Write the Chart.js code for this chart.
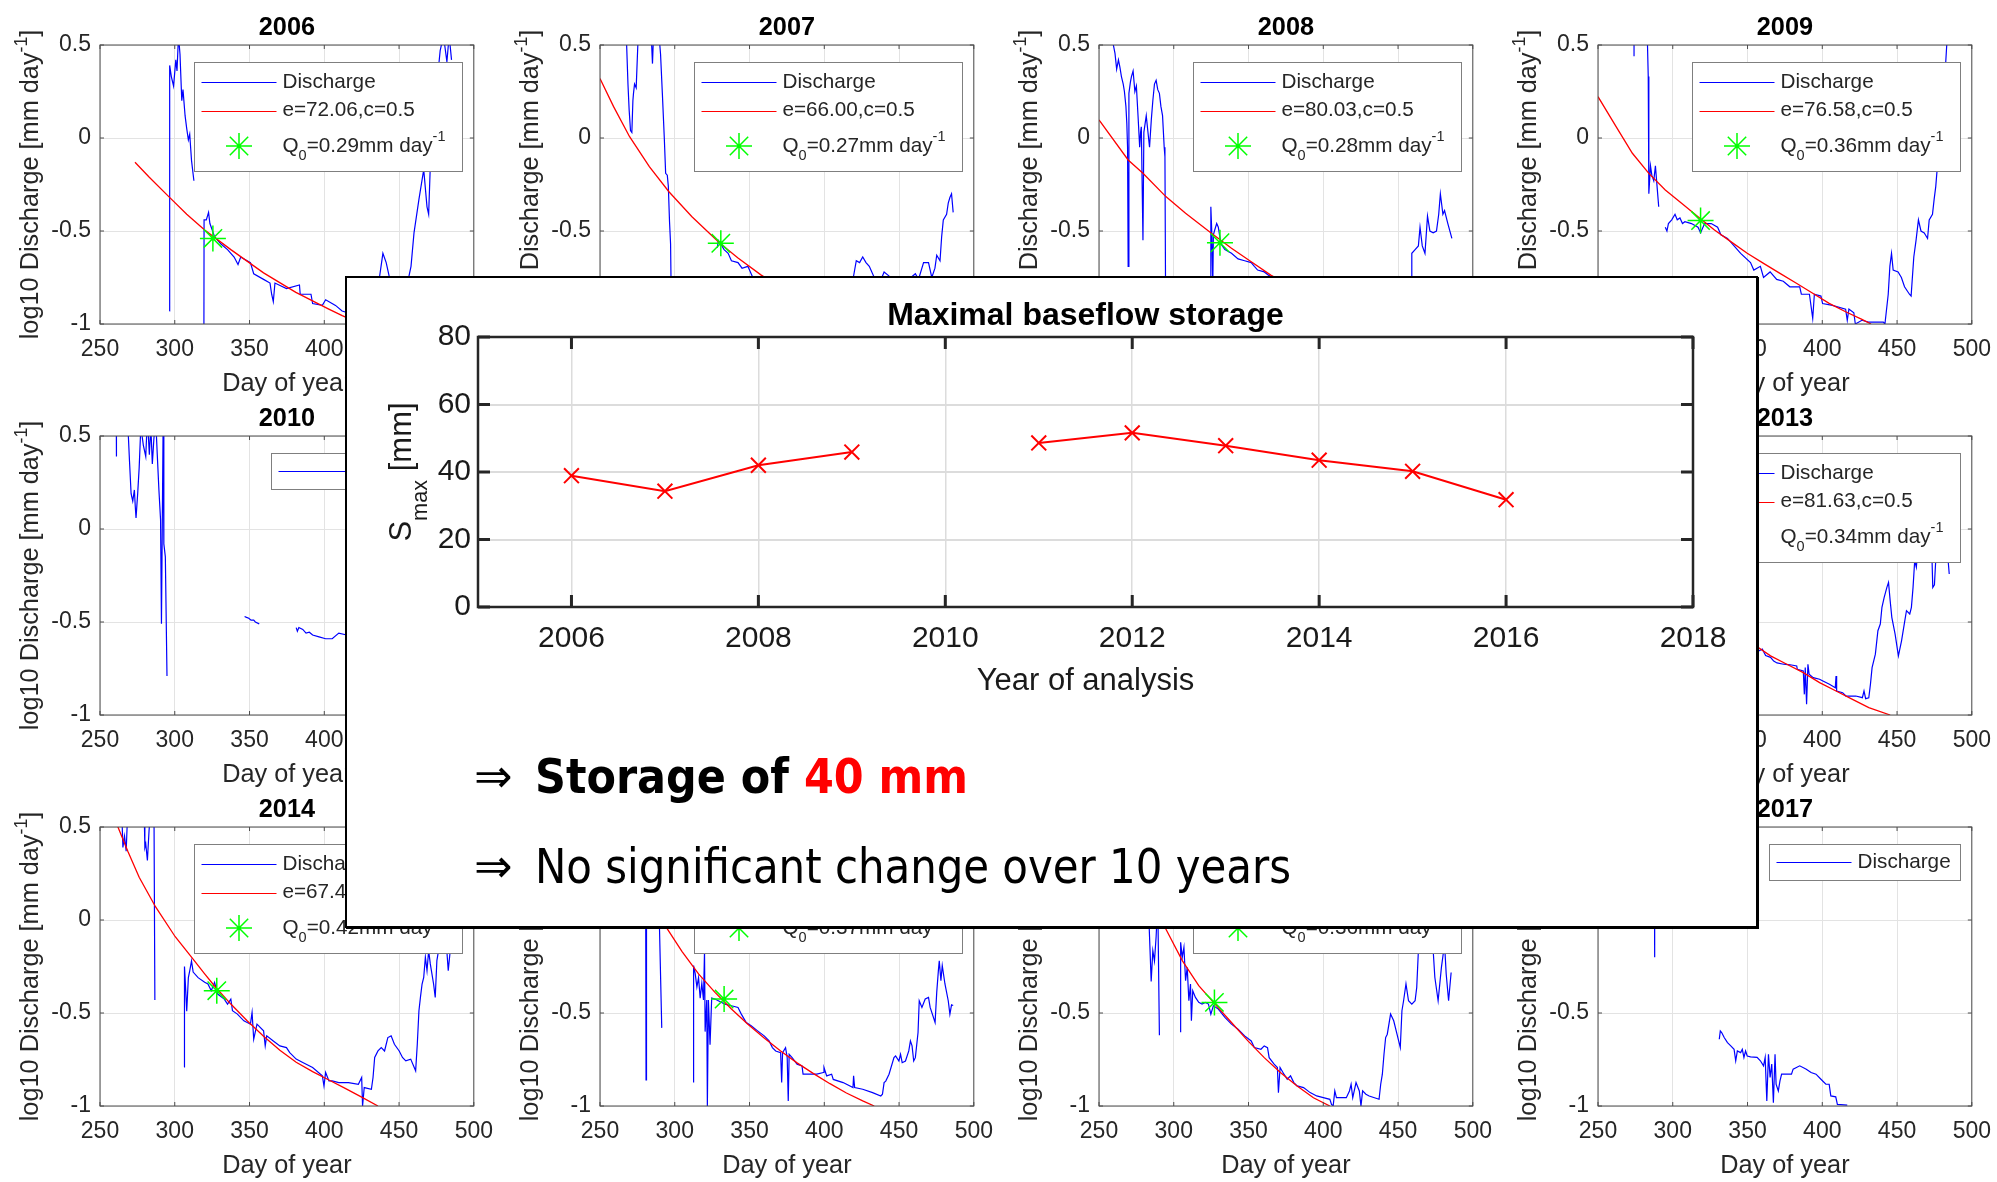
<!DOCTYPE html>
<html>
<head>
<meta charset="utf-8">
<script src="https://cdn.jsdelivr.net/npm/chart.js@4.4.1/dist/chart.umd.min.js"></script>
<style>
  html, body { margin: 0; padding: 0; background: #fff; }
  #page { position: relative; width: 1997px; height: 1182px; overflow: hidden; background: #fff; }
  .panel, #mainChart { position: absolute; }
  #card { position: absolute; left: 345px; top: 276px; width: 1413px; height: 652px; box-sizing: border-box;
          background: #fff; border: 2px solid #000; box-shadow: 1px 1px 0 #000; }
  .say { position: absolute; left: 474px; height: 48px; font-family: 'DejaVu Sans', sans-serif; font-size: 48px;
         line-height: 48px; white-space: nowrap; color: #000; }
  .say .arr { position: absolute; left: 0; top: 0; font-size: 46px; }
  .say .txt { position: absolute; left: 61px; top: 0; transform-origin: 0 0; }
</style>
</head>
<body>
<div id="page">
  <div id="panels"></div>
  <div id="card"></div>
  <canvas id="mainChart" width="1413" height="440" style="left:345px; top:276px;"></canvas>
  <div class="say" style="top:752px"><span class="arr">&#8658;</span><span class="txt" id="txt1"><b>Storage of <span style="color:#ff0000">40 mm</span></b></span></div>
  <div class="say" style="top:842px"><span class="arr">&#8658;</span><span class="txt" id="txt2">No significant change over 10 years</span></div>
</div>
<script>
// ---- main chart: maximal baseflow storage per year ----
const years = [2006, 2007, 2008, 2009, 2010, 2011, 2012, 2013, 2014, 2015, 2016];
const smax = [38.9, 34.3, 42.0, 45.9, null, 48.6, 51.6, 47.8, 43.5, 40.2, 31.8];
const yearTicks = [2006, 2008, 2010, 2012, 2014, 2016, 2018];
const smaxTicks = [0, 20, 40, 60, 80];

// ---- recession panels: [day of year, log10 discharge] ----
const dayTicks = [250, 300, 350, 400, 450, 500];
const logTicks = [-1, -0.5, 0, 0.5];

const discharge2006 = [[296.4,-0.93],[296.6,0.39],[297.7,0.33],[299.2,0.28],[300.7,0.42],[301.5,0.36],[302.5,0.55],[303.5,0.45],[304.7,0.2],[305.5,0.26],[306.9,0.12],[308,0.05],[309.1,-0.01],[310,0.02],[311.2,-0.12],[312.8,-0.23],[316,null],
  [319.5,-1.0],[319.6,-0.44],[321.1,-0.44],[322.6,-0.4],[323.5,-0.46],[324.4,-0.48],[326.6,-0.53],[330.9,-0.57],[335.3,-0.6],[339.7,-0.64],[342.3,-0.68],[344.1,-0.64],[350.6,-0.67],[352.8,-0.73],[359.4,-0.76],[363.7,-0.78],[364.8,-0.84],[365.9,-0.88],[367,-0.78],[374.7,-0.81],[383.4,-0.79],[383.9,-0.84],[387.8,-0.84],[391.1,-0.84],[392.2,-0.89],[398.7,-0.9],[400.9,-0.87],[407.5,-0.9],[411.9,-0.93],[420,-0.95],[430,-0.96],[436,-0.8],[439.2,-0.62],[441.4,-0.67],[443.6,-0.75],[446,-0.9],[452,-0.92],[456.7,-0.74],[458,-0.69],[460,-0.51],[463.3,-0.33],[466.5,-0.17],[468.7,-0.37],[469.8,-0.41],[470.9,-0.15],[473.1,0.12],[475.3,0.29],[477.5,0.47],[479.7,0.55],[482,0.41],[483.5,0.55],[485.1,0.42]];
const fit2006 = [[273.4,-0.13],[282.8,-0.21],[296,-0.315],[308,-0.41],[320,-0.495],[337.5,-0.6],[359.4,-0.725],[381,-0.83],[403,-0.92],[412,-0.955],[422,-0.99]];

const discharge2007 = [[262,0.6],[267.6,0.55],[268.7,0.29],[269.5,0.15],[270.4,0.04],[271.3,0.03],[272,0.2],[272.4,0.24],[273.1,0.29],[274.2,0.27],[275.3,0.5],[276,0.65],[284,0.6],[285.1,0.4],[286,0.6],[289.5,0.55],[290.5,0.45],[291.7,0.24],[293,0.0],[293.9,-0.19],[295,-0.2],[295.7,-0.26],[296.5,-0.45],[297.2,-0.57],[297.7,-0.9],[298,-1.0],[313,null],
  [328.5,-0.59],[329.1,-0.55],[330.8,-0.57],[333,-0.6],[335.7,-0.62],[337.9,-0.66],[342.3,-0.67],[345,-0.7],[348.9,-0.69],[352.2,-0.75],[365,-0.8],[380,-0.83],[395,-0.86],[410,-0.85],[419.2,-0.76],[421.4,-0.66],[423.6,-0.67],[425.7,-0.64],[427.9,-0.67],[430.1,-0.69],[433.4,-0.75],[437,-0.78],[440,-0.72],[443,-0.74],[448,-0.78],[455,-0.77],[460.9,-0.73],[463,-0.76],[466.4,-0.67],[469.7,-0.67],[471.9,-0.75],[474,-0.7],[475.2,-0.63],[477.4,-0.66],[478.5,-0.53],[479.6,-0.44],[481.8,-0.41],[482.9,-0.35],[484,-0.32],[485.1,-0.3],[486.2,-0.4]];
const fit2007 = [[250,0.32],[259,0.17],[269.8,0.007],[283,-0.154],[296.1,-0.289],[311.5,-0.423],[330.2,-0.566],[342.3,-0.645],[357.6,-0.736],[380,-0.85],[400,-0.93],[418,-1.0]];

const discharge2008 = [[259,0.55],[259.6,0.5],[260.7,0.455],[261.8,0.37],[263,0.42],[264,0.38],[265,0.33],[266.2,0.29],[267,0.25],[268,0.17],[268.6,0.08],[269.1,-0.05],[269.5,-0.69],[270,0.24],[271,0.3],[271.7,0.33],[272.8,0.36],[274,0.25],[275,0.28],[276.1,0.12],[277.2,-0.05],[277.8,0.03],[278.3,0.06],[279.4,-0.55],[280,0.03],[281.6,0.12],[282.5,0.05],[283.8,-0.05],[285,0.1],[286,0.2],[287.1,0.29],[288.2,0.31],[289.3,0.26],[290.4,0.24],[291.4,0.17],[292.5,0.12],[293.6,-0.05],[294.1,-0.1],[294.5,-0.8],[294.7,-1.0],[310,null],
  [324.7,-0.95],[324.8,-0.37],[325.4,-0.5],[326.1,-0.8],[326.5,-0.52],[327.2,-0.5],[328.7,-0.46],[329.8,-0.48],[331.6,-0.57],[334.2,-0.6],[338.6,-0.62],[343,-0.65],[347.4,-0.66],[351.8,-0.67],[353.9,-0.69],[356.1,-0.71],[360.5,-0.72],[363.8,-0.74],[375,-0.79],[390,-0.85],[405,-0.9],[420,-0.94],[435,-0.95],[450,-0.9],[456,-0.8],[458.8,-0.76],[459.2,-0.62],[461.4,-0.6],[463.6,-0.58],[464.7,-0.48],[466.2,-0.58],[468,-0.62],[469.7,-0.42],[471.3,-0.5],[473.5,-0.51],[475.7,-0.5],[477.2,-0.41],[478.3,-0.3],[480,-0.41],[481.1,-0.39],[483.3,-0.46],[486,-0.54]];
const fit2008 = [[250,0.097],[269.5,-0.118],[279.4,-0.19],[294.7,-0.315],[307.9,-0.405],[325.4,-0.513],[338.6,-0.593],[351.8,-0.665],[364.9,-0.737],[385,-0.83],[405,-0.91],[428,-1.0]];

const discharge2009 = [[274.1,0.55],[274.1,0.44],[278,null],[282.8,0.6],[283.6,0.33],[284,-0.3],[285.1,-0.15],[286,-0.2],[287.3,-0.23],[288.4,-0.15],[289.5,-0.26],[290.6,-0.37],[292,null],
  [295,-0.48],[296.1,-0.5],[297.1,-0.46],[299.3,-0.44],[301.5,-0.41],[303,-0.44],[304.8,-0.43],[306.5,-0.46],[308.1,-0.45],[312.5,-0.46],[316.9,-0.48],[318.6,-0.51],[321.3,-0.46],[325.7,-0.46],[330,-0.48],[332.2,-0.52],[336.6,-0.54],[341,-0.58],[345.4,-0.62],[352,-0.67],[354.2,-0.71],[358.6,-0.69],[360.7,-0.75],[365.1,-0.72],[369.5,-0.76],[373.9,-0.77],[378.3,-0.8],[384.9,-0.8],[386,-0.84],[391.4,-0.84],[393.6,-0.97],[394.7,-0.84],[399.1,-0.85],[400.2,-0.89],[406.8,-0.9],[415.6,-0.92],[416.7,-0.98],[417.8,-0.92],[421.1,-0.94],[422.1,-1.0],[426.5,-0.98],[430.9,-0.99],[440.8,-0.99],[441.9,-1.0],[444.1,-0.84],[445.2,-0.69],[446.3,-0.62],[447.4,-0.71],[450.7,-0.72],[452.9,-0.75],[455,-0.8],[458.3,-0.84],[459.4,-0.85],[461.2,-0.64],[462.7,-0.55],[464.3,-0.44],[466,-0.5],[468.2,-0.51],[470.4,-0.54],[471.5,-0.44],[473.7,-0.41],[474.8,-0.33],[475.9,-0.26],[477,-0.15],[478.1,0.03],[480.3,0.2],[482.5,0.4],[483.6,0.55]];
const fit2009 = [[250,0.222],[262.1,0.061],[273,-0.082],[284,-0.19],[295,-0.28],[305.9,-0.351],[316.9,-0.423],[327.9,-0.495],[338.8,-0.557],[349.8,-0.62],[360.7,-0.674],[371.7,-0.728],[382.7,-0.781],[393.6,-0.835],[404.6,-0.889],[415.6,-0.934],[426.5,-0.975],[432.6,-1.0]];

const discharge2010 = [[260.9,0.6],[261,0.39],[265,null],[268.4,0.6],[269.7,0.37],[270.8,0.19],[271.9,0.15],[273,0.21],[273.6,0.12],[274.1,0.06],[275.2,0.19],[276.2,0.33],[277.3,0.55],[279,0.45],[280.6,0.39],[281.7,0.6],[283,0.4],[284,0.55],[285,0.35],[286,0.48],[287.2,0.6],[288.3,0.4],[289.4,0.21],[290.5,0.05],[291.1,-0.51],[291.6,-0.03],[292.2,0.55],[292.7,-0.08],[293.7,-0.15],[294.8,-0.79],[320,null],
  [346.7,-0.47],[348,-0.475],[349.5,-0.48],[351,-0.49],[352.8,-0.49],[353.9,-0.5],[356.5,-0.51],[370,null],
  [381.2,-0.53],[382,-0.55],[383,-0.53],[385.6,-0.54],[387.8,-0.56],[390,-0.555],[392.2,-0.57],[396.5,-0.58],[400.9,-0.59],[405.3,-0.59],[409.7,-0.56],[415,-0.57]];

const discharge2013 = [[345,-0.6],[355.5,-0.64],[357.7,-0.655],[359.9,-0.646],[362.1,-0.68],[365.4,-0.69],[367.5,-0.71],[369.7,-0.72],[374.1,-0.727],[378.5,-0.73],[382.9,-0.736],[383.3,-0.754],[387.3,-0.763],[388,-0.889],[388.6,-0.745],[389.5,-0.942],[390.4,-0.727],[391.2,-0.781],[393.9,-0.799],[398.2,-0.808],[400.4,-0.817],[404.8,-0.835],[408.7,-0.853],[409.2,-0.79],[409.6,-0.871],[413.6,-0.88],[415.8,-0.898],[422.4,-0.898],[426.8,-0.907],[427.9,-0.871],[429,-0.912],[431.1,-0.907],[432.2,-0.835],[433.3,-0.745],[435.5,-0.673],[437.2,-0.547],[438.8,-0.511],[439.9,-0.421],[441.4,-0.368],[443.2,-0.314],[444.3,-0.287],[445.4,-0.386],[446.5,-0.475],[448.7,-0.565],[450.9,-0.682],[453,-0.601],[455.2,-0.493],[456.3,-0.439],[458.5,-0.457],[459.6,-0.421],[460.7,-0.314],[461.8,-0.17],[462.9,-0.206],[464,-0.098],[465.1,-0.026],[466.2,0.063],[468.4,0.153],[472.8,0.01],[473.9,-0.314],[475,-0.3],[476.1,-0.134],[478.3,-0.026],[480.5,0.153],[483.8,-0.134],[484.9,-0.242]];
const fit2013 = [[335,-0.52],[355.5,-0.628],[365.4,-0.682],[376.3,-0.727],[387.3,-0.772],[398.2,-0.826],[409.2,-0.871],[420.2,-0.916],[431.1,-0.96],[445.4,-1.0]];

const discharge2014 = [[264.5,0.6],[265.3,0.39],[266.4,0.45],[267.5,0.37],[268.6,0.6],[279.5,0.6],[280,0.39],[280.6,0.41],[281.7,0.32],[282.8,0.48],[283.9,0.6],[286.1,0.6],[286.7,-0.43],[296,null],
  [306.2,-0.79],[306.5,-0.25],[306.9,-0.31],[308,-0.49],[309.1,-0.31],[310.1,-0.27],[311.2,-0.22],[312.3,-0.28],[315.6,-0.31],[320,-0.335],[322.2,-0.344],[324.4,-0.38],[326.6,-0.335],[328.7,-0.398],[333.1,-0.425],[335.3,-0.452],[337.5,-0.425],[338.6,-0.488],[341.9,-0.506],[346.2,-0.542],[350.6,-0.56],[351.7,-0.497],[352.8,-0.641],[355,-0.56],[359.4,-0.596],[360.5,-0.677],[361.5,-0.623],[365.9,-0.65],[370.3,-0.677],[374.7,-0.686],[376.9,-0.713],[381.2,-0.748],[385.6,-0.766],[392.2,-0.793],[398.7,-0.838],[399.8,-0.892],[400.9,-0.82],[403.1,-0.865],[405.3,-0.865],[409.7,-0.874],[416.2,-0.874],[422.8,-0.883],[425,-0.847],[425.6,-1.0],[426.7,-0.901],[431.5,-0.91],[432.6,-0.847],[433.7,-0.739],[435.9,-0.704],[438.1,-0.686],[440.3,-0.704],[442.5,-0.632],[444.7,-0.623],[446.9,-0.668],[450.1,-0.704],[452.3,-0.739],[454.5,-0.757],[457.8,-0.748],[461.1,-0.811],[462.2,-0.668],[463.3,-0.488],[464.3,-0.416],[465.4,-0.344],[466.5,-0.308],[467.6,-0.2],[468.7,-0.272],[469.8,-0.165],[470.9,-0.236],[473.1,-0.344],[474.2,-0.416],[475.3,-0.218],[476.4,-0.165],[477.5,-0.057],[479.7,0.015],[481.8,-0.147],[482.9,-0.272],[484,-0.183]];
const fit2014 = [[258,0.62],[262,0.5],[268.6,0.37],[276.2,0.23],[287.2,0.07],[300.3,-0.09],[311.2,-0.2],[320,-0.29],[326.6,-0.355],[337.5,-0.452],[348.4,-0.542],[359.4,-0.625],[370.3,-0.7],[381.2,-0.765],[392.2,-0.815],[403.1,-0.86],[414,-0.905],[425,-0.952],[435.9,-1.0]];

const discharge2015 = [[280.5,0.3],[280.8,-0.86],[281.1,0.3],[289.1,0.2],[291.3,-0.58],[300,null],
  [312.2,-0.87],[312.6,-0.245],[313.7,-0.29],[314.8,-0.36],[315.9,-0.31],[317,-0.42],[318.1,-0.34],[319.2,-0.43],[319.9,-0.165],[320.3,-0.6],[321.4,-0.43],[321.8,-1.0],[322.5,-0.43],[323.6,-0.67],[324.7,-0.42],[326.9,-0.425],[329.1,-0.434],[333.5,-0.452],[337.9,-0.461],[342.3,-0.47],[344.5,-0.506],[347.8,-0.551],[351.1,-0.569],[355.4,-0.596],[359.8,-0.623],[363.1,-0.65],[365.3,-0.686],[367.5,-0.704],[370.8,-0.713],[371.5,-0.874],[372.1,-0.713],[374.1,-0.686],[375.2,-0.74],[375.9,-0.973],[376.5,-0.722],[378.5,-0.74],[381.8,-0.775],[385.1,-0.784],[385.8,-0.829],[388.4,-0.829],[395,-0.829],[399.4,-0.82],[399.8,-0.793],[401.6,-0.838],[404.9,-0.829],[406,-0.857],[412.6,-0.874],[419.2,-0.901],[419.6,-0.838],[420.3,-0.901],[425.7,-0.91],[432.3,-0.928],[437.8,-0.946],[438.9,-0.937],[440,-0.874],[441.1,-0.866],[443.3,-0.829],[446.6,-0.74],[447.7,-0.731],[449.9,-0.758],[451,-0.722],[452.1,-0.767],[454.3,-0.758],[456.5,-0.704],[457.6,-0.65],[458.7,-0.677],[459.8,-0.758],[460.9,-0.74],[462.7,-0.605],[463.5,-0.434],[465.3,-0.47],[467.5,-0.425],[469.7,-0.416],[470.8,-0.47],[474.1,-0.551],[475.2,-0.389],[476.3,-0.272],[476.9,-0.219],[478,-0.326],[478.9,-0.245],[480.7,-0.344],[482.9,-0.434],[484,-0.506],[485.1,-0.456],[486.2,-0.46]];
const fit2015 = [[288,0.06],[295,-0.048],[304.9,-0.17],[315.9,-0.29],[326.9,-0.389],[337.9,-0.478],[348.9,-0.56],[359.8,-0.635],[370.8,-0.704],[381.8,-0.768],[392.8,-0.826],[403.8,-0.88],[414.8,-0.93],[425.7,-0.972],[433.4,-1.0]];

const discharge2016 = [[282.5,0.2],[283.8,-0.09],[284.9,-0.33],[286,-0.165],[287.1,-0.22],[288.2,-0.09],[289.3,0.1],[290.4,-0.62],[297,null],
  [304.2,-0.6],[304.6,-0.12],[305.7,-0.2],[306.8,-0.147],[307.9,-0.326],[309,-0.255],[310.1,-0.434],[311.2,-0.344],[311.8,-0.542],[312.7,-0.38],[314.5,-0.416],[316.7,-0.443],[318.9,-0.452],[321.1,-0.443],[323.2,-0.452],[324.8,-0.506],[326.5,-0.461],[329.8,-0.479],[334.2,-0.524],[338.6,-0.56],[343,-0.587],[347.4,-0.623],[351.8,-0.65],[353.9,-0.686],[358.3,-0.695],[360.5,-0.677],[362.7,-0.686],[363.8,-0.74],[367.1,-0.775],[369.3,-0.793],[370,-0.928],[371.1,-0.793],[373.7,-0.829],[375.9,-0.856],[378.1,-0.838],[380.3,-0.874],[382.5,-0.892],[386.8,-0.901],[391.2,-0.928],[395.6,-0.946],[400,-0.955],[404.4,-0.964],[405.5,-0.991],[406.6,-1.0],[407.7,-0.919],[408.8,-0.955],[415.4,-0.955],[417.5,-0.919],[418.6,-0.883],[419.7,-0.955],[421.9,-0.874],[424.1,-0.919],[425.2,-1.0],[426.3,-0.919],[428.5,-0.937],[430.7,-0.946],[437.3,-0.964],[438.4,-0.883],[439.5,-0.829],[440.6,-0.722],[441.7,-0.632],[442.8,-0.614],[445,-0.506],[447.1,-0.542],[449.3,-0.614],[451.5,-0.686],[452.6,-0.488],[453.7,-0.434],[455.3,-0.344],[457,-0.434],[459.2,-0.452],[461.4,-0.434],[462.5,-0.362],[463.6,-0.165],[464.7,0.0],[468,0.1],[472,0.0],[473.5,-0.165],[474.6,-0.308],[476.8,-0.434],[479,-0.255],[481.1,-0.129],[482.2,-0.29],[483.8,-0.434],[485.5,-0.282]];
const fit2016 = [[285,0.1],[294.7,-0.048],[305.7,-0.218],[316.7,-0.353],[327.6,-0.452],[338.6,-0.551],[349.6,-0.65],[360.5,-0.74],[371.5,-0.821],[382.5,-0.893],[393.4,-0.956],[404.4,-1.0]];

const discharge2017 = [[287.8,0.1],[287.9,-0.2],[300,null],
  [331.1,-0.641],[331.8,-0.596],[332.7,-0.605],[334.4,-0.632],[336.6,-0.659],[338.8,-0.677],[341,-0.695],[342.1,-0.757],[343.2,-0.704],[345.4,-0.713],[346.5,-0.695],[347.6,-0.739],[348.7,-0.704],[349.8,-0.731],[352,-0.736],[356.4,-0.739],[358.6,-0.757],[360.7,-0.784],[361.8,-0.739],[362.9,-0.973],[364,-0.722],[365.1,-0.847],[366.2,-0.775],[367.3,-0.982],[368.4,-0.722],[369.1,-0.883],[370.6,-0.919],[371.7,-0.865],[372.8,-0.829],[373.9,-0.829],[379.4,-0.829],[380.5,-0.802],[384.9,-0.784],[389.3,-0.802],[392.5,-0.82],[395.8,-0.829],[399.1,-0.856],[402.4,-0.883],[404.6,-0.883],[405.7,-0.946],[409,-0.951],[410.1,-0.991],[416.7,-0.995]];

const panelYears = [2006, 2007, 2008, 2009, 2010, 2013, 2014, 2015, 2016, 2017];
const q0Day = [325.5, 330.8, 330.9, 318.6, null, null, 328.1, 333.0, 327.2, null];
const q0Log = [-0.54, -0.566, -0.563, -0.444, null, null, -0.38, -0.425, -0.443, null];
const eLabels = ['72.06', '66.00', '80.03', '76.58', null, '81.63', '67.45', '70.20', '71.50', null];
const q0Labels = ['0.29', '0.27', '0.28', '0.36', null, '0.34', '0.42', '0.37', '0.36', null];

const dischargeSeries = [discharge2006, discharge2007, discharge2008, discharge2009, discharge2010,
                         discharge2013, discharge2014, discharge2015, discharge2016, discharge2017];
const fitSeries = [fit2006, fit2007, fit2008, fit2009, null, fit2013, fit2014, fit2015, fit2016, null];

// ---- drawing ----
const FONT = "'Liberation Sans', Arial, Helvetica, sans-serif";
const INK = '#262626';
Chart.defaults.font.family = FONT;
Chart.defaults.color = INK;

const PLOT_LEFT = [100, 600, 1099, 1598];
const PLOT_TOP = [45, 436, 827];

function toXY(pairs) {
  return pairs.map(p => ({ x: p[0], y: p[1] }));
}

// text with sub / superscript pieces: parts = [[text, ''|'sub'|'sup'], ...]
function drawRich(ctx, parts, x, y, size, weight, align) {
  const fontFor = k => `${weight} ${k ? size * 0.7 : size}px ${FONT}`;
  let total = 0;
  parts.forEach(([t, k]) => { ctx.font = fontFor(k); total += ctx.measureText(t).width; });
  let cx = align === 'center' ? x - total / 2 : x;
  ctx.textAlign = 'left';
  parts.forEach(([t, k]) => {
    ctx.font = fontFor(k);
    const dy = k === 'sub' ? size * 0.5 : (k === 'sup' ? -size * 0.42 : 0);
    ctx.fillText(t, cx, y + dy);
    cx += ctx.measureText(t).width;
  });
}

function drawStar(ctx, x, y, r) {
  const d = r * Math.SQRT1_2;
  ctx.beginPath();
  ctx.moveTo(x - r, y); ctx.lineTo(x + r, y);
  ctx.moveTo(x, y - r); ctx.lineTo(x, y + r);
  ctx.moveTo(x - d, y - d); ctx.lineTo(x + d, y + d);
  ctx.moveTo(x - d, y + d); ctx.lineTo(x + d, y - d);
  ctx.stroke();
}

// box round the axes with inward tick marks (matlab look)
function drawFrame(chart, color, boxWidth, tickLen, tickWidth) {
  const { ctx, chartArea: a, scales } = chart;
  ctx.save();
  ctx.strokeStyle = color;
  ctx.lineWidth = tickWidth;
  ctx.beginPath();
  scales.x.ticks.forEach(t => {
    const p = scales.x.getPixelForValue(t.value);
    ctx.moveTo(p, a.bottom); ctx.lineTo(p, a.bottom - tickLen);
    ctx.moveTo(p, a.top); ctx.lineTo(p, a.top + tickLen);
  });
  scales.y.ticks.forEach(t => {
    const p = scales.y.getPixelForValue(t.value);
    ctx.moveTo(a.left, p); ctx.lineTo(a.left + tickLen, p);
    ctx.moveTo(a.right, p); ctx.lineTo(a.right - tickLen, p);
  });
  ctx.stroke();
  ctx.lineWidth = boxWidth;
  ctx.strokeRect(a.left, a.top, a.right - a.left, a.bottom - a.top);
  ctx.restore();
}

function panelDecor(year, legendRows) {
  return {
    id: 'panelDecor',
    afterDatasetsDraw(chart) {
      drawFrame(chart, '#4d4d4d', 1, 4, 1);
      const { ctx, chartArea: a } = chart;
      ctx.save();
      // legend
      const three = legendRows.length === 3;
      const bx = Math.round(a.left + (three ? 94 : 171)) + 0.5, by = Math.round(a.top + 17) + 0.5;
      const bw = three ? 268 : 191, bh = three ? 109 : 36;
      ctx.fillStyle = '#fff';
      ctx.fillRect(bx, by, bw, bh);
      ctx.strokeStyle = '#7f7f7f';
      ctx.lineWidth = 1;
      ctx.strokeRect(bx, by, bw, bh);
      const rowY = three ? [37.2, 65.5, 101] : [34.8];
      const lx0 = bx + 7, lx1 = bx + 82, tx = bx + 88;
      legendRows.forEach((r, i) => {
        const y = a.top + rowY[i];
        if (r.mark === 'star') {
          ctx.strokeStyle = '#00ff00';
          ctx.lineWidth = 1.5;
          drawStar(ctx, (lx0 + lx1) / 2, y, 13);
        } else {
          ctx.strokeStyle = r.mark;
          ctx.lineWidth = 1;
          ctx.beginPath();
          ctx.moveTo(lx0, Math.round(y) + 0.5); ctx.lineTo(lx1, Math.round(y) + 0.5);
          ctx.stroke();
        }
        ctx.fillStyle = INK;
        ctx.textBaseline = 'middle';
        drawRich(ctx, r.parts, tx, y, 20.7, 'normal', 'left');
      });
      // title and axis labels
      ctx.textBaseline = 'alphabetic';
      ctx.fillStyle = '#000';
      drawRich(ctx, [[String(year), '']], (a.left + a.right) / 2, a.top - 10, 25.3, 'bold', 'center');
      ctx.fillStyle = INK;
      drawRich(ctx, [['Day of year', '']], (a.left + a.right) / 2, a.bottom + 66.5, 25.3, 'normal', 'center');
      ctx.translate(a.left - 62, (a.top + a.bottom) / 2);
      ctx.rotate(-Math.PI / 2);
      drawRich(ctx, [['log10 Discharge [mm day', ''], ['-1', 'sup'], [']', '']], 0, 0, 25.3, 'normal', 'center');
      ctx.restore();
    }
  };
}

const holder = document.getElementById('panels');
panelYears.forEach((year, i) => {
  const slot = year - 2006;
  const L = PLOT_LEFT[slot % 4], T = PLOT_TOP[Math.floor(slot / 4)];
  const cv = document.createElement('canvas');
  cv.className = 'panel';
  cv.width = 505; cv.height = 400;
  cv.style.left = (L - 100) + 'px';
  cv.style.top = (T - 45) + 'px';
  holder.appendChild(cv);

  const datasets = [];
  if (q0Day[i] !== null) {
    datasets.push({ data: [{ x: q0Day[i], y: q0Log[i] }], showLine: false, pointStyle: 'star',
      pointRadius: 13, pointBorderWidth: 1.5, borderColor: '#00ff00', backgroundColor: '#00ff00' });
  }
  if (fitSeries[i]) {
    datasets.push({ data: toXY(fitSeries[i]), borderColor: '#ff0000', borderWidth: 1.3, pointRadius: 0 });
  }
  datasets.push({ data: toXY(dischargeSeries[i]), borderColor: '#0000ff', borderWidth: 1.2, pointRadius: 0, spanGaps: false });

  const legendRows = [{ mark: '#0000ff', parts: [['Discharge', '']] }];
  if (eLabels[i] !== null) {
    legendRows.push({ mark: '#ff0000', parts: [[`e=${eLabels[i]},c=0.5`, '']] });
    legendRows.push({ mark: 'star', parts: [['Q', ''], ['0', 'sub'], [`=${q0Labels[i]}mm day`, ''], ['-1', 'sup']] });
  }

  new Chart(cv, {
    type: 'line',
    data: { datasets },
    options: {
      responsive: false,
      animation: false,
      devicePixelRatio: 1,
      layout: { padding: { left: 0, top: 45, right: 25, bottom: 0 } },
      plugins: { legend: { display: false }, tooltip: { enabled: false } },
      scales: {
        x: {
          type: 'linear', min: 250, max: 500,
          afterBuildTicks: s => { s.ticks = dayTicks.map(v => ({ value: v })); },
          afterFit: s => { s.height = 76; },
          grid: { color: '#e3e3e3', lineWidth: 1, drawTicks: false },
          border: { display: false },
          ticks: { font: { size: 23 }, color: INK, padding: 12, maxRotation: 0, autoSkip: false }
        },
        y: {
          type: 'linear', min: -1, max: 0.5,
          afterBuildTicks: s => { s.ticks = logTicks.map(v => ({ value: v })); },
          afterFit: s => { s.width = 100; },
          grid: { color: '#e3e3e3', lineWidth: 1, drawTicks: false },
          border: { display: false },
          ticks: { font: { size: 23 }, color: INK, padding: 9, callback: v => String(v) }
        }
      }
    },
    plugins: [panelDecor(year, legendRows)]
  });
});

// ---- overlay chart ----
const mainDecor = {
  id: 'mainDecor',
  afterDatasetsDraw(chart) {
    drawFrame(chart, INK, 2.5, 12, 3);
    const { ctx, chartArea: a } = chart;
    ctx.save();
    ctx.textBaseline = 'alphabetic';
    ctx.fillStyle = '#000';
    drawRich(ctx, [['Maximal baseflow storage', '']], (a.left + a.right) / 2, 49, 32, 'bold', 'center');
    ctx.fillStyle = '#1a1a1a';
    drawRich(ctx, [['Year of analysis', '']], (a.left + a.right) / 2, 414, 31, 'normal', 'center');
    ctx.translate(66, (a.top + a.bottom) / 2);
    ctx.rotate(-Math.PI / 2);
    drawRich(ctx, [['S', ''], ['max', 'sub'], [' [mm]', '']], 0, 0, 31, 'normal', 'center');
    ctx.restore();
  }
};

new Chart(document.getElementById('mainChart'), {
  type: 'line',
  data: {
    datasets: [{
      data: years.map((y, i) => ({ x: y, y: smax[i] })),
      borderColor: '#ff0000', borderWidth: 2, spanGaps: false,
      pointStyle: 'crossRot', pointRadius: 10.5, pointBorderWidth: 2,
      pointBorderColor: '#ff0000', pointBackgroundColor: '#ff0000'
    }]
  },
  options: {
    responsive: false,
    animation: false,
    devicePixelRatio: 1,
    layout: { padding: { left: 0, top: 61, right: 65, bottom: 0 } },
    plugins: { legend: { display: false }, tooltip: { enabled: false } },
    scales: {
      x: {
        type: 'linear', min: 2005, max: 2018,
        afterBuildTicks: s => { s.ticks = yearTicks.map(v => ({ value: v })); },
        afterFit: s => { s.height = 109; },
        grid: { color: '#dcdcdc', lineWidth: 1.5, drawTicks: false },
        border: { display: false },
        ticks: { font: { size: 30 }, color: '#1a1a1a', padding: 14, maxRotation: 0, autoSkip: false, callback: v => String(v) }
      },
      y: {
        type: 'linear', min: 0, max: 80,
        afterBuildTicks: s => { s.ticks = smaxTicks.map(v => ({ value: v })); },
        afterFit: s => { s.width = 133; },
        grid: { color: '#dcdcdc', lineWidth: 2, drawTicks: false },
        border: { display: false },
        ticks: { font: { size: 30 }, color: '#1a1a1a', padding: 7 }
      }
    }
  },
  plugins: [mainDecor]
});

// squeeze the slide text to the width it has in the picture
function fitText() {
  [['txt1', 433], ['txt2', 756]].forEach(([id, target]) => {
    const el = document.getElementById(id);
    el.style.transform = 'none';
    const w = el.getBoundingClientRect().width;
    if (w > 0) el.style.transform = `scaleX(${target / w})`;
  });
}
fitText();
if (document.fonts && document.fonts.ready) document.fonts.ready.then(fitText);
</script>
</body>
</html>
